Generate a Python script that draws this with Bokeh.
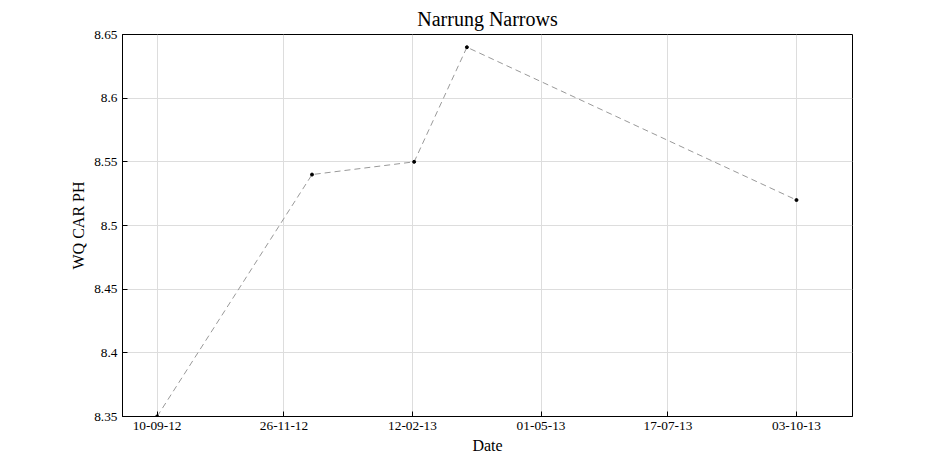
from datetime import datetime
from bokeh.plotting import figure
from bokeh.models import FixedTicker, DatetimeTickFormatter, Range1d
from bokeh.embed import file_html
from bokeh.resources import INLINE

dates = ["2012-09-10", "2012-12-13", "2013-02-13", "2013-03-17", "2013-10-03"]
values = [8.35, 8.54, 8.55, 8.64, 8.52]
tick_dates = ["2012-09-10", "2012-11-26", "2013-02-12", "2013-05-01", "2013-07-17", "2013-10-03"]
yticks = [8.35, 8.4, 8.45, 8.5, 8.55, 8.6, 8.65]

xs = [datetime.fromisoformat(d) for d in dates]
def ms(d):
    return datetime.fromisoformat(d).timestamp() * 1000

p = figure(width=929, height=456, output_backend="svg", toolbar_location=None,
           x_axis_type="datetime", title="Narrung Narrows",
           x_range=Range1d(ms("2012-08-20"), ms("2013-11-06")),
           y_range=Range1d(8.35, 8.65),
           min_border_left=122, min_border_right=77, min_border_top=27, min_border_bottom=37)
p.line(xs, values, line_dash="6 4", line_color="#999999", line_width=1)
p.scatter(xs, values, size=3, color="black")

font = "Liberation Serif"
p.title.text_font = font
p.title.text_font_size = "15pt"
p.title.text_font_style = "normal"
p.title.text_color = "black"
p.title.align = "center"
p.xaxis.ticker = FixedTicker(ticks=[ms(d) for d in tick_dates])
p.xaxis.formatter = DatetimeTickFormatter(days="%d-%m-%y", months="%d-%m-%y", years="%d-%m-%y")
p.yaxis.ticker = FixedTicker(ticks=yticks)
p.xaxis.axis_label = "Date"
p.yaxis.axis_label = "WQ CAR PH"
for ax in (p.xaxis, p.yaxis):
    ax.axis_label_text_font = font
    ax.axis_label_text_font_style = "normal"
    ax.axis_label_text_font_size = "12pt"
    ax.axis_label_text_color = "black"
    ax.major_label_text_font = font
    ax.major_label_text_font_size = "10pt"
    ax.major_label_text_color = "black"
    ax.major_tick_in = 5
    ax.major_tick_out = 0
    ax.minor_tick_in = 0
    ax.minor_tick_out = 0
    ax.axis_line_color = "black"
    ax.major_tick_line_color = "black"
    ax.axis_label_standoff = 4
p.grid.grid_line_color = "#dddddd"
p.outline_line_color = "black"
p.outline_line_alpha = 1
open("out.html", "w").write(file_html(p, INLINE))
